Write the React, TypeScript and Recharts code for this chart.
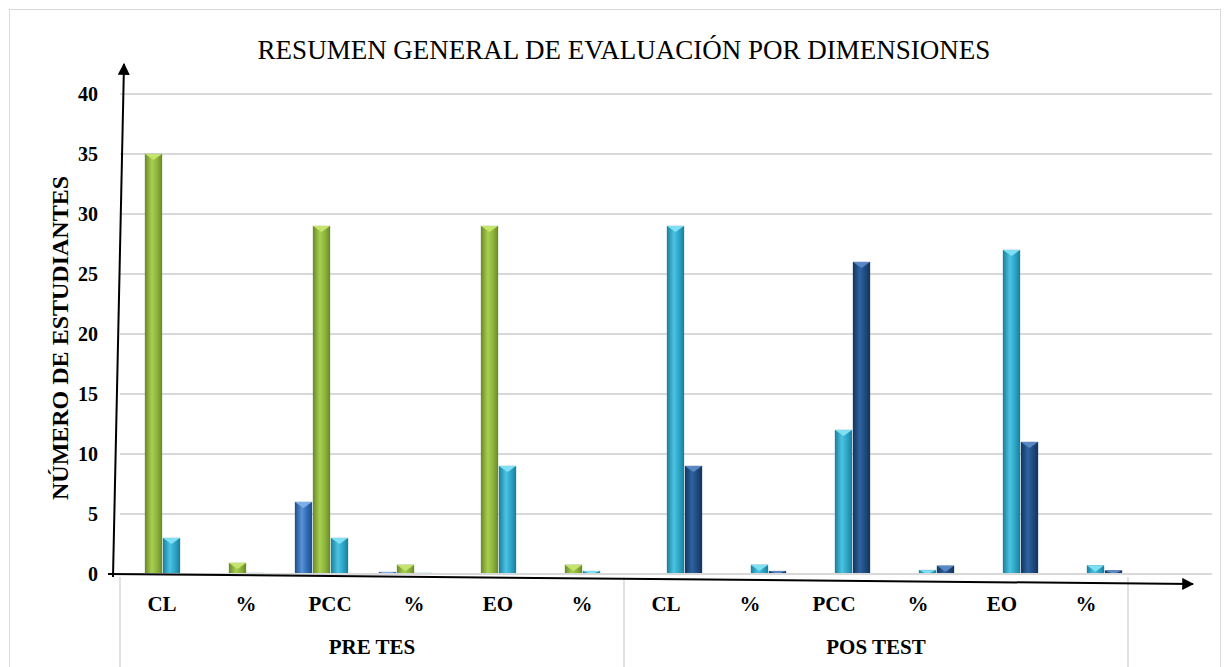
import { BarChart, Bar, XAxis, YAxis, CartesianGrid } from "recharts";

// category labels (last slot is the empty column Excel leaves at the end)
const categories = ["CL", "%", "PCC", "%", "EO", "%", "CL", "%", "PCC", "%", "EO", "%", ""];
const groups = ["PRE TES", "POS TEST"];
const yTicks = [0, 5, 10, 15, 20, 25, 30, 35, 40];

// series values
const inicio = [0, 0, 6, 0.16, 0, 0, 0, 0, 0, 0, 0, 0, null];
const proceso = [35, 0.92, 29, 0.76, 29, 0.76, 0, 0, 0, 0, 0, 0, null];
const logro = [3, 0.08, 3, 0.08, 9, 0.24, 29, 0.76, 12, 0.32, 27, 0.71, null];
const destacado = [0, 0, 0, 0, 0, 0, 9, 0.24, 26, 0.68, 11, 0.29, null];

const data = categories.map((c, i) => ({
  key: `c${i}`,
  label: c,
  inicio: inicio[i],
  proceso: proceso[i],
  logro: logro[i],
  destacado: destacado[i],
}));

const W = 1226;
const H = 667;
const M = { top: 94, right: 14, left: 0, bottom: 0 };
const Y_AXIS_W = 120;
const X_AXIS_H = 93;
const PLOT_W = W - M.left - M.right - Y_AXIS_W;
const BAND = PLOT_W / categories.length;
const FONT = "'Liberation Serif', 'Times New Roman', serif";

const palettes = {
  inicio: { id: "gInicio", dark: "#1f4f8f", mid: "#2f6db5", light: "#5a93d6", top: "#7eaee6" },
  proceso: { id: "gProceso", dark: "#6a8a2a", mid: "#8db53c", light: "#a8cf50", top: "#c4e46e" },
  logro: { id: "gLogro", dark: "#1a7f9e", mid: "#2ea6c8", light: "#4cc3e2", top: "#7fe0f4" },
  destacado: { id: "gDestacado", dark: "#13355e", mid: "#1f4c80", light: "#2e62a0", top: "#5a88c4" },
};

function makeShape(p: { id: string; top: string; dark: string }) {
  return (props: any) => {
    const { x, y, width, height } = props;
    if (!height || height <= 0) return <g />;
    const t = Math.min(6, height);
    return (
      <g>
        <rect x={x} y={y} width={width} height={height} fill={`url(#${p.id})`} stroke={p.dark} strokeOpacity={0.5} strokeWidth={0.6} />
        <polygon points={`${x},${y} ${x + width},${y} ${x + width / 2},${y + t}`} fill={p.top} />
      </g>
    );
  };
}

function CategoryTick(props: any) {
  const { x, y, payload } = props;
  const i = payload.index ?? props.index;
  const axisY = y - 8;
  const left = x - BAND / 2;
  return (
    <g>
      <text x={x} y={axisY + 37} textAnchor="middle" fontFamily={FONT} fontWeight="bold" fontSize={21} fill="#000">
        {categories[i]}
      </text>
      {i % 6 === 0 && (
        <line x1={left} y1={axisY + 3} x2={left} y2={H} stroke="#d9d9d9" strokeWidth={1.5} />
      )}
      {i % 6 === 0 && i < 12 && (
        <text x={left + BAND * 3} y={axisY + 80} textAnchor="middle" fontFamily={FONT} fontWeight="bold" fontSize={21} fill="#000">
          {groups[i / 6]}
        </text>
      )}
    </g>
  );
}

function YTitle(props: any) {
  const vb = props.viewBox;
  const cx = 60;
  const cy = vb.y + vb.height / 2 + 4;
  return (
    <text x={cx} y={cy} transform={`rotate(-90, ${cx}, ${cy})`} textAnchor="middle" dominantBaseline="central" fontFamily={FONT} fontWeight="bold" fontSize={24} fill="#000">
      NÚMERO DE ESTUDIANTES
    </text>
  );
}

export default function App() {
  return (
    <div style={{ position: "absolute", left: 0, top: 0, width: W, height: H, background: "#fff", overflow: "hidden" }}>
      <div style={{ position: "absolute", left: 9, top: 9, width: 1212, height: 700, border: "1.5px solid #d9d9d9", boxSizing: "border-box" }} />
      <div style={{ position: "absolute", left: 0, width: 1248, top: 35, textAlign: "center", fontFamily: FONT, fontSize: 27, color: "#000" }}>
        RESUMEN GENERAL DE EVALUACIÓN POR DIMENSIONES
      </div>
      <BarChart width={W} height={H} data={data} margin={M} barGap={1} style={{ position: "absolute", left: 0, top: 0 }}>
        <defs>
          {Object.values(palettes).map((p) => (
            <linearGradient key={p.id} id={p.id} x1="0" y1="0" x2="1" y2="0">
              <stop offset="0%" stopColor={p.dark} />
              <stop offset="40%" stopColor={p.light} />
              <stop offset="70%" stopColor={p.mid} />
              <stop offset="100%" stopColor={p.dark} />
            </linearGradient>
          ))}
        </defs>
        <CartesianGrid vertical={false} stroke="#d9d9d9" strokeWidth={2} />
        <XAxis
          dataKey="key"
          interval={0}
          height={X_AXIS_H}
          axisLine={{ stroke: "#d9d9d9", strokeWidth: 2 }}
          tickLine={false}
          tick={<CategoryTick />}
        />
        <YAxis
          width={Y_AXIS_W}
          domain={[0, 40]}
          ticks={yTicks}
          interval={0}
          axisLine={false}
          tickLine={false}
          tickMargin={16}
          tick={{ fontFamily: FONT, fontWeight: "bold", fontSize: 20, fill: "#000" }}
          label={{ content: <YTitle /> }}
        />
        <Bar dataKey="inicio" name="Inicio" barSize={17} fill={palettes.inicio.mid} shape={makeShape(palettes.inicio)} isAnimationActive={false} />
        <Bar dataKey="proceso" name="Proceso" barSize={17} fill={palettes.proceso.mid} shape={makeShape(palettes.proceso)} isAnimationActive={false} />
        <Bar dataKey="logro" name="Logro" barSize={17} fill={palettes.logro.mid} shape={makeShape(palettes.logro)} isAnimationActive={false} />
        <Bar dataKey="destacado" name="Destacado" barSize={17} fill={palettes.destacado.mid} shape={makeShape(palettes.destacado)} isAnimationActive={false} />
      </BarChart>
      {/* hand drawn axis arrows */}
      <svg width={W} height={H} style={{ position: "absolute", left: 0, top: 0, pointerEvents: "none" }}>
        <defs>
          <marker id="arrow" viewBox="0 0 10 10" refX="9" refY="5" markerWidth="6" markerHeight="6" orient="auto">
            <path d="M0,0 L10,5 L0,10 z" fill="#000" />
          </marker>
        </defs>
        <line x1={113} y1={577} x2={124} y2={64} stroke="#000" strokeWidth={2} markerEnd="url(#arrow)" />
        <line x1={108} y1={574} x2={1193} y2={584} stroke="#000" strokeWidth={2} markerEnd="url(#arrow)" />
      </svg>
    </div>
  );
}
